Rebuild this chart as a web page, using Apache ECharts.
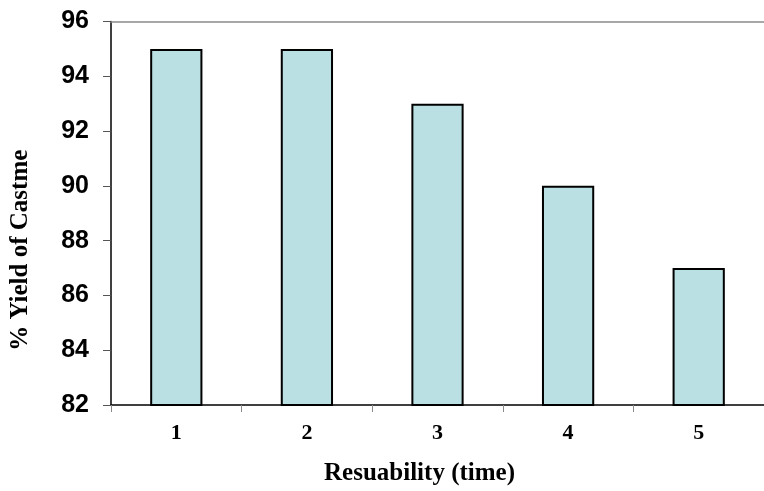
<!DOCTYPE html>
<html>
<head>
<meta charset="utf-8">
<script src="https://cdn.jsdelivr.net/npm/echarts@6/dist/echarts.min.js"></script>
<style>
html,body{margin:0;padding:0;background:#fff;}
#chart{width:764px;height:491px;}
</style>
</head>
<body>
<div id="chart"></div>
<script>
const categories = ['1', '2', '3', '4', '5'];
const yieldValues = [95, 95, 93, 90, 87];
const yTicks = { min: 82, max: 96, interval: 2 };
const xTitle = 'Resuability (time)';
const yTitle = '% Yield of Castme';

const chart = echarts.init(document.getElementById('chart'), null, { renderer: 'canvas' });
const serif = '"Liberation Serif", "Times New Roman", serif';
chart.setOption({
  animation: false,
  backgroundColor: '#ffffff',
  grid: { left: 111, top: 21.5, width: 662.5, height: 384 },
  xAxis: [{
    type: 'category',
    data: categories,
    position: 'bottom',
    axisLine: { show: true, lineStyle: { color: '#000', width: 1.5 } },
    axisTick: { show: true, alignWithLabel: false, length: 7, lineStyle: { color: '#8a8a8a', width: 1 } },
    axisLabel: { margin: 17, color: '#000', fontFamily: serif, fontWeight: 'bold', fontSize: 22 },
    splitLine: { show: false },
    name: xTitle,
    nameLocation: 'middle',
    nameGap: 56,
    nameTextStyle: { color: '#000', fontFamily: serif, fontWeight: 'bold', fontSize: 25, padding: [0, 36, 0, 0] }
  }, {
    type: 'category',
    data: categories,
    position: 'top',
    axisLine: { show: true, lineStyle: { color: '#8a8a8a', width: 1.5 } },
    axisTick: { show: false },
    axisLabel: { show: false }
  }],
  yAxis: {
    type: 'value',
    min: yTicks.min,
    max: yTicks.max,
    interval: yTicks.interval,
    axisLine: { show: true, lineStyle: { color: '#000', width: 1.5 } },
    axisTick: { show: true, length: 8, lineStyle: { color: '#555', width: 1 } },
    axisLabel: { margin: 22, color: '#000', fontFamily: '"Liberation Sans", Arial, sans-serif', fontWeight: 'bold', fontSize: 25 },
    splitLine: { show: false },
    name: yTitle,
    nameLocation: 'middle',
    nameGap: 78,
    nameRotate: 90,
    nameTextStyle: { color: '#000', fontFamily: serif, fontWeight: 'bold', fontSize: 25, padding: [0, 74, 0, 0] }
  },
  series: [{
    type: 'bar',
    data: yieldValues,
    barWidth: '40%',
    itemStyle: { color: '#bae0e3', borderColor: '#000', borderWidth: 2 }
  }]
});
</script>
</body>
</html>
